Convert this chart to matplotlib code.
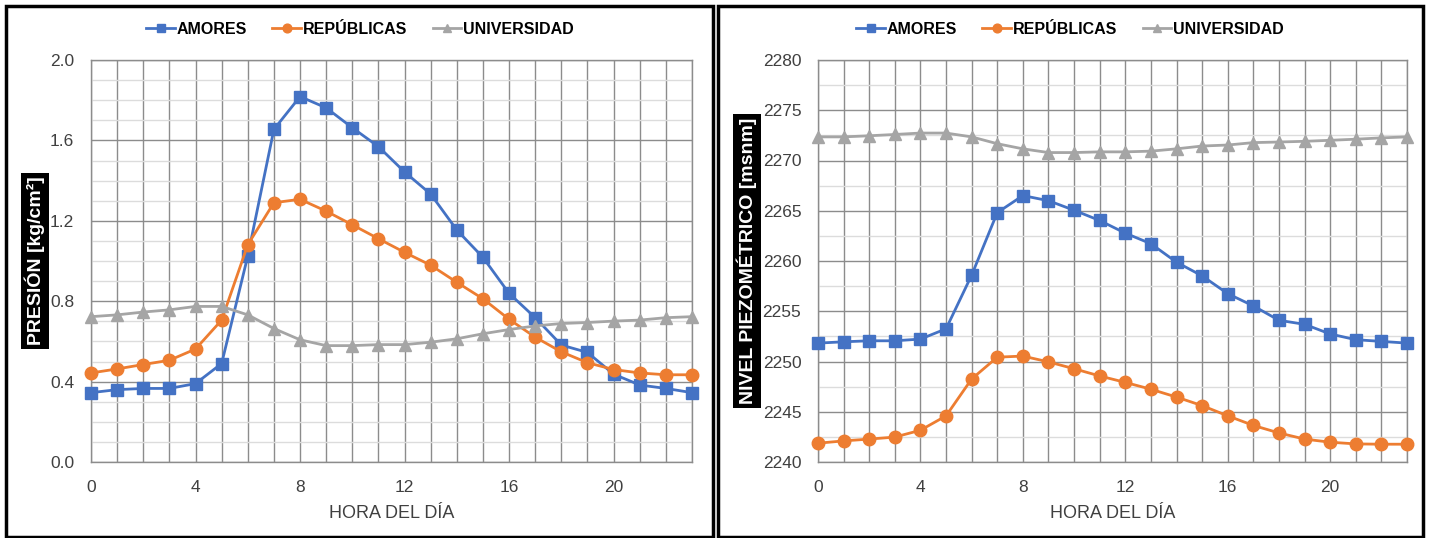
import matplotlib.pyplot as plt
import numpy as np
from matplotlib.ticker import MultipleLocator, FixedLocator, FuncFormatter
from matplotlib.patches import Rectangle

plt.rcParams['font.family'] = ['Liberation Sans', 'DejaVu Sans']

# Hourly data
hours = list(range(24))

pres_amores = [0.345, 0.36, 0.366, 0.366, 0.39, 0.49, 1.025, 1.655, 1.818, 1.762, 1.663, 1.569,
               1.443, 1.333, 1.154, 1.018, 0.839, 0.718, 0.582, 0.545, 0.437, 0.383, 0.366, 0.345]
pres_republicas = [0.443, 0.463, 0.485, 0.506, 0.562, 0.706, 1.081, 1.29, 1.307, 1.248, 1.18, 1.111,
                   1.043, 0.979, 0.894, 0.812, 0.71, 0.621, 0.548, 0.494, 0.46, 0.443, 0.434, 0.434]
pres_universidad = [0.723, 0.732, 0.746, 0.757, 0.774, 0.774, 0.732, 0.664, 0.608, 0.579, 0.579, 0.584,
                    0.584, 0.596, 0.613, 0.638, 0.659, 0.677, 0.689, 0.694, 0.701, 0.706, 0.718, 0.723]

niv_amores = [2251.83, 2251.96, 2252.06, 2252.06, 2252.23, 2253.25, 2258.59, 2264.81, 2266.51, 2266.0,
              2265.05, 2264.03, 2262.77, 2261.72, 2259.88, 2258.52, 2256.75, 2255.53, 2254.1, 2253.7,
              2252.74, 2252.17, 2252.0, 2251.83]
niv_republicas = [2241.87, 2242.1, 2242.28, 2242.48, 2243.16, 2244.59, 2248.26, 2250.43, 2250.54, 2249.96,
                  2249.28, 2248.56, 2247.92, 2247.24, 2246.46, 2245.61, 2244.59, 2243.64, 2242.89, 2242.28,
                  2241.97, 2241.8, 2241.77, 2241.77]
niv_universidad = [2272.35, 2272.35, 2272.46, 2272.59, 2272.73, 2272.73, 2272.35, 2271.67, 2271.16, 2270.79,
                   2270.79, 2270.86, 2270.86, 2270.93, 2271.16, 2271.44, 2271.54, 2271.78, 2271.84, 2271.91,
                   2272.01, 2272.12, 2272.25, 2272.35]

names = ['AMORES', 'REPÚBLICAS', 'UNIVERSIDAD']
colors = ['#4472C4', '#ED7D31', '#A5A5A5']
markers = ['s', 'o', '^']

fig = plt.figure(figsize=(14.32, 5.38), dpi=100)
W, H = 1432, 538

def fx(px):
    return px / W

def fy(py):
    return 1 - py / H

# panel frames
fig.patches.append(Rectangle((fx(6), fy(537)), fx(707), 531 / H, transform=fig.transFigure,
                             fill=False, edgecolor='black', linewidth=2.5))
fig.patches.append(Rectangle((fx(718), fy(537)), fx(705), 531 / H, transform=fig.transFigure,
                             fill=False, edgecolor='black', linewidth=2.5))

ax1 = fig.add_axes([fx(91), fy(462), fx(692 - 91), (462 - 60) / H])
ax2 = fig.add_axes([fx(818), fy(462), fx(1407 - 818), (462 - 60) / H])

panels = [
    (ax1, [pres_amores, pres_republicas, pres_universidad], (0, 2.0), 0.4, 0.1, '{:.1f}',
     'PRESIÓN [kg/cm²]', 35, 360),
    (ax2, [niv_amores, niv_republicas, niv_universidad], (2240, 2280), 5, 2.5, '{:.0f}',
     'NIVEL PIEZOMÉTRICO [msnm]', 747, 1070),
]

for ax, series, ylim, major, minor, fmt, ylabel, ylx, legx in panels:
    handles = []
    for vals, name, c, m in zip(series, names, colors, markers):
        ms = 9 if m != '^' else 8.5
        h, = ax.plot(hours, vals, color=c, marker=m, markersize=ms, linewidth=2.0,
                     label=name, clip_on=False, zorder=3)
        handles.append(h)

    ax.set_xlim(0, 23)
    ax.set_ylim(*ylim)
    ax.xaxis.set_major_locator(FixedLocator(hours))
    ax.xaxis.set_major_formatter(FuncFormatter(lambda v, p: f'{int(v)}' if int(v) % 4 == 0 else ''))
    ax.yaxis.set_major_locator(MultipleLocator(major))
    ax.yaxis.set_minor_locator(MultipleLocator(minor))
    ax.yaxis.set_major_formatter(FuncFormatter(lambda v, p, f=fmt: f.format(v)))

    ax.grid(which='major', axis='both', color='#8C8C8C', linewidth=1.0, zorder=1)
    ax.grid(which='minor', axis='y', color='#DCDCDC', linewidth=1.0, zorder=0)
    ax.set_axisbelow(True)
    for s in ax.spines.values():
        s.set_color('#8C8C8C')
        s.set_linewidth(1.0)

    ax.tick_params(which='both', length=0, labelsize=12.5, labelcolor='#404040')
    ax.tick_params(axis='x', pad=13)
    ax.tick_params(axis='y', pad=12)
    ax.set_xlabel('HORA DEL DÍA', fontsize=13, color='#404040', labelpad=7)

    fig.text(fx(ylx), fy(261), ylabel, rotation=90, ha='center', va='center',
             fontsize=14, fontweight='bold', color='white',
             bbox=dict(facecolor='black', edgecolor='none', boxstyle='square,pad=0.2'))

    fig.legend(handles=handles, loc='center', bbox_to_anchor=(fx(legx), fy(29)), ncol=3,
               frameon=False, prop={'size': 11.5, 'weight': 'bold'}, handlelength=1.8,
               handletextpad=0.1, columnspacing=1.6, markerscale=0.7)

fig.savefig('out.png', dpi=100)
